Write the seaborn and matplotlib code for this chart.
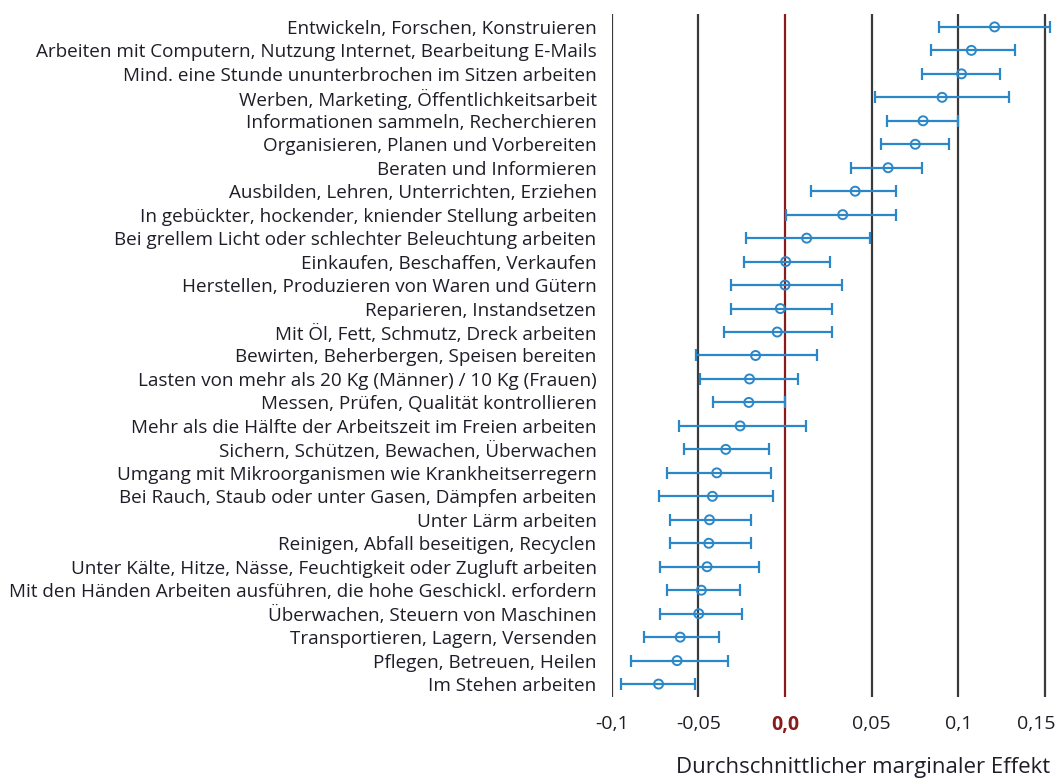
import matplotlib
matplotlib.use("Agg")
import matplotlib.pyplot as plt
import seaborn as sns
import numpy as np
import pandas as pd

categories = [
    "Entwickeln, Forschen, Konstruieren",
    "Arbeiten mit Computern, Nutzung Internet, Bearbeitung E-Mails",
    "Mind. eine Stunde ununterbrochen im Sitzen arbeiten",
    "Werben, Marketing, Öffentlichkeitsarbeit",
    "Informationen sammeln, Recherchieren",
    "Organisieren, Planen und Vorbereiten",
    "Beraten und Informieren",
    "Ausbilden, Lehren, Unterrichten, Erziehen",
    "In gebückter, hockender, kniender Stellung arbeiten",
    "Bei grellem Licht oder schlechter Beleuchtung arbeiten",
    "Einkaufen, Beschaffen, Verkaufen",
    "Herstellen, Produzieren von Waren und Gütern",
    "Reparieren, Instandsetzen",
    "Mit Öl, Fett, Schmutz, Dreck arbeiten",
    "Bewirten, Beherbergen, Speisen bereiten",
    "Lasten von mehr als 20 Kg (Männer) / 10 Kg (Frauen)",
    "Messen, Prüfen, Qualität kontrollieren",
    "Mehr als die Hälfte der Arbeitszeit im Freien arbeiten",
    "Sichern, Schützen, Bewachen, Überwachen",
    "Umgang mit Mikroorganismen wie Krankheitserregern",
    "Bei Rauch, Staub oder unter Gasen, Dämpfen arbeiten",
    "Unter Lärm arbeiten",
    "Reinigen, Abfall beseitigen, Recyclen",
    "Unter Kälte, Hitze, Nässe, Feuchtigkeit oder Zugluft arbeiten",
    "Mit den Händen Arbeiten ausführen, die hohe Geschickl. erfordern",
    "Überwachen, Steuern von Maschinen",
    "Transportieren, Lagern, Versenden",
    "Pflegen, Betreuen, Heilen",
    "Im Stehen arbeiten",
]

effect = [0.121, 0.1076, 0.1019, 0.0907, 0.0797, 0.0752, 0.0595, 0.0405,
          0.0333, 0.0125, 0.0004, 0.0, -0.0027, -0.0045, -0.017, -0.0205,
          -0.0209, -0.0259, -0.0342, -0.0394, -0.0419, -0.0436, -0.044,
          -0.045, -0.0483, -0.0498, -0.0605, -0.0623, -0.073]
ci_low = [0.0887, 0.0845, 0.0792, 0.0521, 0.0591, 0.0552, 0.0381, 0.0151,
          0.0008, -0.0228, -0.0239, -0.0311, -0.0311, -0.0353, -0.0516,
          -0.0488, -0.0415, -0.0611, -0.0581, -0.0683, -0.073, -0.0665,
          -0.0665, -0.0721, -0.0683, -0.0721, -0.0812, -0.0888, -0.0945]
ci_high = [0.1527, 0.1327, 0.1243, 0.1294, 0.1, 0.0949, 0.0792, 0.0643,
           0.0643, 0.0492, 0.0262, 0.0328, 0.0274, 0.0274, 0.0186, 0.0077,
           0.0, 0.0121, -0.0093, -0.0083, -0.0071, -0.0195, -0.0195,
           -0.0153, -0.0259, -0.0249, -0.0382, -0.033, -0.0518]

tick_values = [-0.1, -0.05, 0.0, 0.05, 0.1, 0.15]
tick_labels = ["-0,1", "-0,05", "0,0", "0,05", "0,1", "0,15"]
x_label = "Durchschnittlicher marginaler Effekt"

df = pd.DataFrame({"cat": categories, "eff": effect, "lo": ci_low, "hi": ci_high})

sns.set_theme(style="white")
plt.rcParams["font.family"] = ["Open Sans", "DejaVu Sans"]

text_color = "#1e1e28"
blue = "#2b87c8"
dark_red = "#8b1a1a"

fig = plt.figure(figsize=(10.59, 7.81), dpi=100)
ax = fig.add_axes([611.8 / 1059, 1 - 697 / 781, 441.7 / 1059, 683 / 781])

# vertical reference lines
for v in tick_values:
    ax.axvline(v, color=dark_red if v == 0 else "#3a3a3a", lw=1.6, zorder=1)

ypos = np.arange(len(df))
ax.errorbar(df["eff"], ypos,
            xerr=[df["eff"] - df["lo"], df["hi"] - df["eff"]],
            fmt="none", ecolor=blue, elinewidth=1.6, capsize=4.5, capthick=1.6,
            zorder=2)
sns.scatterplot(data=df, x="eff", y=ypos, ax=ax, marker="o", s=42,
                facecolors="none", edgecolor=blue, linewidth=1.4, zorder=3)

ax.set_xlim(-0.1, 0.155)
ax.set_ylim(len(df) - 0.45, -0.55)
ax.set_yticks(ypos)
ax.set_yticklabels(df["cat"], fontsize=13.6, color=text_color)
ax.set_xticks(tick_values)
# last label drawn separately (shifted left so it stays inside the figure)
ax.set_xticklabels(tick_labels[:-1] + [""], fontsize=14, color=text_color)
for lbl in ax.get_xticklabels():
    if lbl.get_text() == "0,0":
        lbl.set_color(dark_red)
        lbl.set_fontweight("bold")
ax.annotate(tick_labels[-1], xy=(tick_values[-1], 0), xycoords=("data", "axes fraction"),
            xytext=(-6, -13), textcoords="offset points", ha="center", va="top",
            fontsize=14, color=text_color)
ax.tick_params(axis="y", length=0, pad=11)
ax.tick_params(axis="x", length=0, pad=13)
for s in ax.spines.values():
    s.set_visible(False)
ax.set_xlabel("")
ax.set_ylabel("")
fig.text(1050 / 1059, 1 - 768 / 781, x_label, ha="right", va="center",
         fontsize=16, color=text_color)

fig.savefig("out.png", dpi=100)
